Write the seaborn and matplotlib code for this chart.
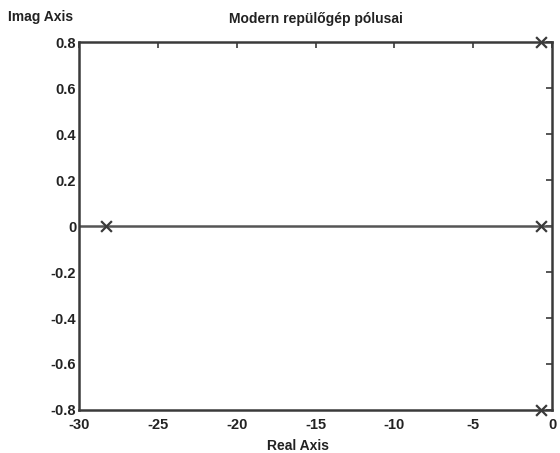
import numpy as np
import pandas as pd
import seaborn as sns
from matplotlib import pyplot as plt

# poles
pole_real = [-28.3, -0.7, -0.7, -0.7]
pole_imag = [0.0, 0.8, 0.0, -0.8]
x_ticks = [-30, -25, -20, -15, -10, -5, 0]
y_ticks = [-0.8, -0.6, -0.4, -0.2, 0, 0.2, 0.4, 0.6, 0.8]
y_labels = ["-0.8", "-0.6", "-0.4", "-0.2", "0", "0.2", "0.4", "0.6", "0.8"]

sns.set_style("white")
plt.rcParams['font.family'] = ['Liberation Sans', 'DejaVu Sans']

poles = pd.DataFrame({"re": pole_real, "im": pole_imag})

fig = plt.figure(figsize=(5.6, 4.53), dpi=100)
ax = fig.add_axes([0.141, 0.095, 0.845, 0.812])

ink = "#3a3a3a"
ax.axhline(0, color="#555555", lw=1.8, zorder=1)
sns.scatterplot(data=poles, x="re", y="im", marker="x", s=60, color=ink,
                linewidth=1.6, ax=ax, zorder=3, clip_on=False)

ax.set_xlim(-30, 0)
ax.set_ylim(-0.8, 0.8)
ax.set_xticks(x_ticks)
ax.set_xticklabels([str(t) for t in x_ticks])
ax.set_yticks(y_ticks)
ax.set_yticklabels(y_labels)
ax.tick_params(direction="in", length=4, width=1.2, colors=ink, top=True, right=True,
               labelsize=10.5, labelcolor="#222222", pad=2)
ax.tick_params(axis="x", pad=6)
for lab in ax.get_xticklabels() + ax.get_yticklabels():
    lab.set_fontweight("bold")
for s in ax.spines.values():
    s.set_color(ink)
    s.set_linewidth(1.8)
ax.set_xlabel("")
ax.set_ylabel("")

ax.set_title("Modern repülőgép pólusai", fontsize=10, fontweight="bold",
             color="#222222", pad=14)
fig.text(0.014, 0.962, "Imag Axis", fontsize=10, fontweight="bold", color="#222222",
         va="center", ha="left")
fig.text(0.532, 0.016, "Real Axis", fontsize=10, fontweight="bold", color="#222222",
         va="center", ha="center")

fig.savefig("out.png", dpi=100, facecolor="white")
